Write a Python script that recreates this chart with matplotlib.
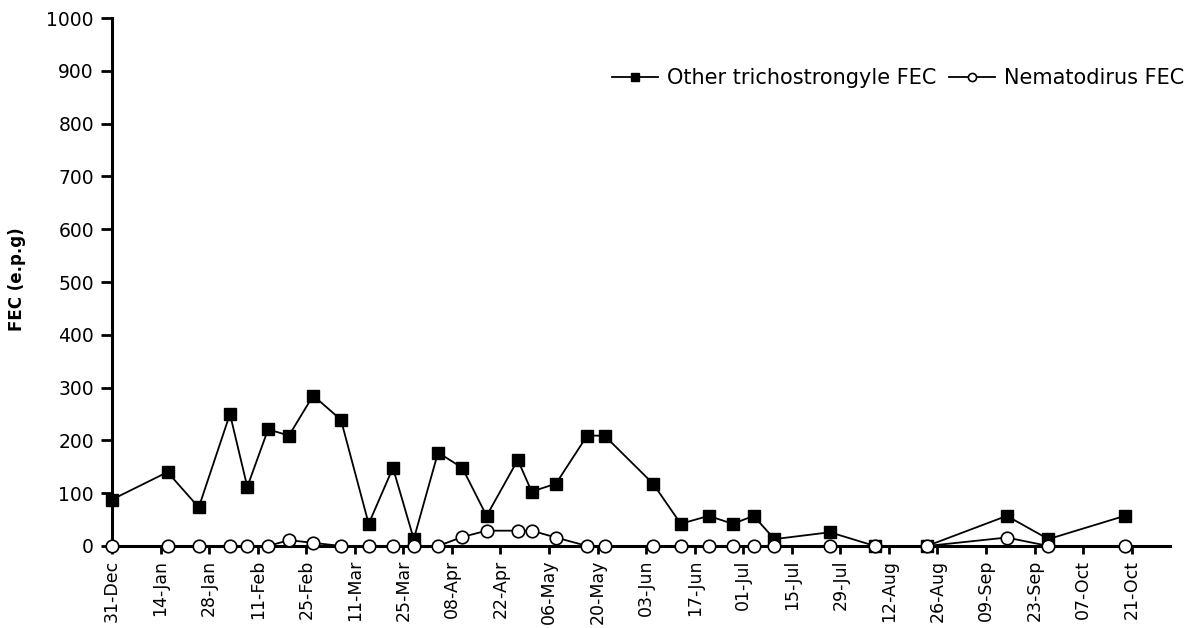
import matplotlib.pyplot as plt
import matplotlib.dates as mdates
import pandas as pd

plt.rcParams['font.family'] = ['DejaVu Sans']

sample_dates = [
	"2006-12-31", "2007-01-16", "2007-01-25", "2007-02-03", "2007-02-08",
	"2007-02-14", "2007-02-20", "2007-02-27", "2007-03-07", "2007-03-15",
	"2007-03-22", "2007-03-28", "2007-04-04", "2007-04-11", "2007-04-18",
	"2007-04-27", "2007-05-01", "2007-05-08", "2007-05-17", "2007-05-22",
	"2007-06-05", "2007-06-13", "2007-06-21", "2007-06-28", "2007-07-04",
	"2007-07-10", "2007-07-26", "2007-08-08", "2007-08-23", "2007-09-15",
	"2007-09-27", "2007-10-19",
]
trich_fec = [88, 140, 73, 250, 112, 221, 209, 285, 239, 42,
	148, 13, 177, 148, 57, 163, 103, 118, 209, 209,
	118, 42, 57, 42, 57, 13, 26, 0, 0, 57, 13, 57]
nemat_fec = [0, 0, 0, 0, 0, 0, 11, 6, 0, 0,
	0, 0, 0, 17, 29, 29, 29, 16, 0, 0,
	0, 0, 0, 0, 0, 0, 0, 0, 0, 16, 0, 0]

dates = pd.to_datetime(sample_dates)
ticks = pd.date_range("2006-12-31", "2007-10-21", freq="14D")

fig = plt.figure(figsize=(12.01, 6.28), dpi=100)
ax = fig.add_axes([0.0933, 0.1306, 0.8807, 0.8407])

ax.plot(dates, trich_fec, color="black", lw=1.3, marker="s", ms=8.5,
	mfc="black", mec="black", clip_on=False, zorder=3,
	label="Other trichostrongyle FEC")
ax.plot(dates, nemat_fec, color="black", lw=1.3, marker="o", ms=9,
	mfc="white", mec="black", mew=1.2, clip_on=False, zorder=4,
	label="Nematodirus FEC")

ax.set_ylim(0, 1000)
ax.set_yticks(range(0, 1001, 100))
ax.set_xlim(pd.Timestamp("2006-12-31"), pd.Timestamp("2007-11-01"))
ax.set_xticks(ticks)
ax.xaxis.set_major_formatter(mdates.DateFormatter("%d-%b"))
plt.setp(ax.get_xticklabels(), rotation=90)

for side in ["top", "right"]:
	ax.spines[side].set_visible(False)
for side in ["left", "bottom"]:
	ax.spines[side].set_linewidth(2.2)
ax.tick_params(axis="y", direction="out", length=8, width=2, labelsize=13.5, pad=5)
ax.tick_params(axis="x", direction="out", length=6, width=2, labelsize=12.5, pad=4)

ax.set_ylabel("FEC (e.p.g)", fontsize=12, fontweight="bold")
ax.yaxis.set_label_coords(-0.081, 0.506)

fig.legend(loc="center left", bbox_to_anchor=(0.5096, 0.876), ncol=2,
	frameon=False, fontsize=15, handlelength=2.2, handletextpad=0.43,
	columnspacing=0.62, borderaxespad=0, borderpad=0, markerscale=0.65)

fig.savefig("out.png", dpi=100)
